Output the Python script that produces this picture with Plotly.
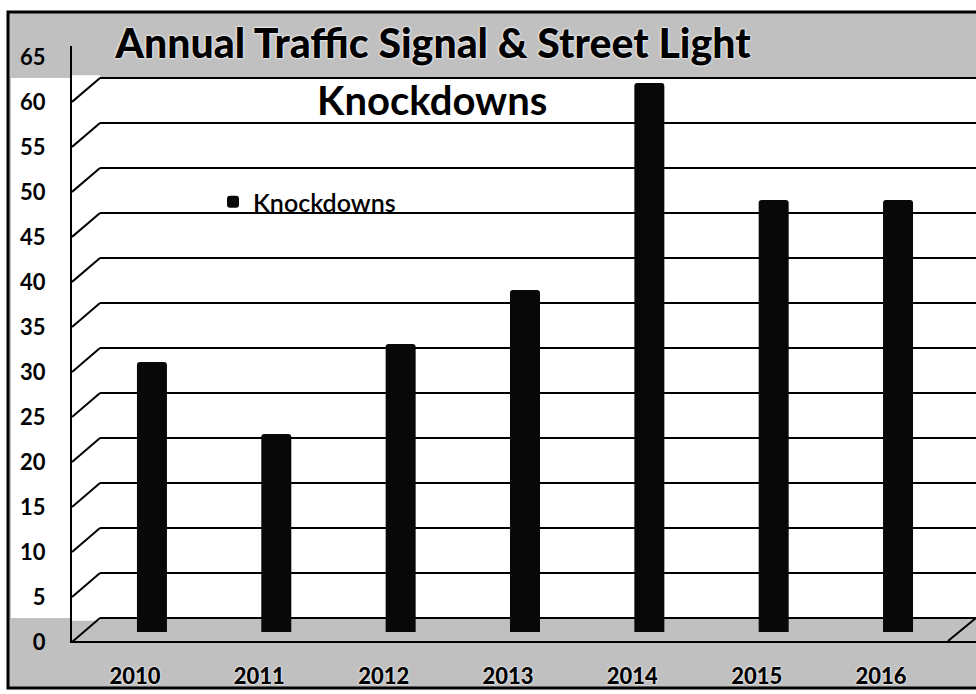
import plotly.graph_objects as go

# ---------------- data ----------------
years = ["2010", "2011", "2012", "2013", "2014", "2015", "2016"]
knockdowns = [30, 22, 32, 38, 61, 48, 48]
y_ticks = [0, 5, 10, 15, 20, 25, 30, 35, 40, 45, 50, 55, 60, 65]
title_line1 = "Annual Traffic Signal &amp; Street Light"
title_line2 = "Knockdowns"
series_name = "Knockdowns"

# ---------------- layout geometry ----------------
W, H = 976, 694
ML, MR, MT, MB = 72, 0, 46, 53
plot_w = W - ML - MR
plot_h = H - MT - MB
Y_RANGE = [-1, 65.1]
X_RANGE = [-0.643, 6.627]
px_per_y = plot_h / (Y_RANGE[1] - Y_RANGE[0])
px_per_x = plot_w / (X_RANGE[1] - X_RANGE[0])
BACK_SHIFT = 14 / px_per_y     # back wall sits higher than bar base
FRONT_SHIFT = -10 / px_per_y   # front edge (labels) sits lower
DEPTH_DX = 28 / px_per_x       # depth of the side wall in x units
WALL_TOP = 60

FONT = "Lato"
GRAY = "#c0c0c0"


def pxx(p):
    return (p - ML) / plot_w


def pxy(p):
    return (H - MB - p) / plot_h


def yv2paper(v):
    return (v - Y_RANGE[0]) / (Y_RANGE[1] - Y_RANGE[0])


fig = go.Figure()

fig.add_trace(go.Bar(
    x=years, y=knockdowns, name=series_name,
    marker=dict(color="#080808", line=dict(width=0), cornerradius=3),
    width=30 / px_per_x,
))
# empty helper trace so that the back-wall grid axis is created
fig.add_trace(go.Scatter(x=[], y=[], yaxis="y2", showlegend=False, hoverinfo="skip"))

shapes = []
# outer gray frame with black border
shapes.append(dict(type="rect", xref="paper", yref="paper",
                   x0=pxx(8), x1=pxx(995), y0=pxy(688), y1=pxy(12),
                   fillcolor=GRAY, line=dict(color="black", width=3), layer="below"))
# white back wall + left label column
shapes.append(dict(type="rect", xref="paper", yref="paper",
                   x0=pxx(11), x1=pxx(995),
                   y0=yv2paper(0 + BACK_SHIFT), y1=yv2paper(WALL_TOP + BACK_SHIFT),
                   fillcolor="white", line=dict(width=0), layer="below"))
# side wall strip hiding the back grid left of the perspective connectors
shapes.append(dict(type="rect", xref="x", yref="y",
                   x0=X_RANGE[0], x1=X_RANGE[0] + DEPTH_DX,
                   y0=BACK_SHIFT - 0.3, y1=WALL_TOP + BACK_SHIFT + 0.3,
                   fillcolor="white", line=dict(width=0), layer="between"))
# perspective connectors from the front axis to the back wall grid
for v in y_ticks:
    if v <= WALL_TOP:
        shapes.append(dict(type="line", xref="x", yref="y",
                           x0=X_RANGE[0], y0=v + FRONT_SHIFT,
                           x1=X_RANGE[0] + DEPTH_DX, y1=v + BACK_SHIFT,
                           line=dict(color="black", width=2), layer="between"))
# right floor edge
shapes.append(dict(type="line", xref="x", yref="y",
                   x0=X_RANGE[1] - DEPTH_DX, y0=Y_RANGE[0],
                   x1=X_RANGE[1], y1=BACK_SHIFT,
                   line=dict(color="black", width=2), layer="between"))

title_font = dict(family=FONT, size=41, color="black", weight=900,
                  shadow="0px 0px 2px white, 0px 0px 3px white")

fig.update_layout(
    width=W, height=H,
    margin=dict(l=ML, r=MR, t=MT, b=MB, pad=0),
    paper_bgcolor="white",
    plot_bgcolor="rgba(0,0,0,0)",
    bargap=0.5,
    title=dict(text=title_line1, x=433 / W, xanchor="center", xref="container",
               y=1 - 44 / H, yanchor="middle", yref="container", font=title_font),
    annotations=[dict(text=title_line2, xref="paper", yref="paper",
                      x=pxx(432), y=pxy(100), xanchor="center", yanchor="middle",
                      showarrow=False,
                      font=dict(family=FONT, size=40, color="black", weight="bold"))],
    shapes=shapes,
    showlegend=True,
    legend=dict(x=pxx(213), y=pxy(202), xanchor="left", yanchor="middle",
                bgcolor="rgba(0,0,0,0)",
                font=dict(family=FONT, size=25, color="black", weight=600)),
    xaxis=dict(type="category", categoryorder="array", categoryarray=years,
               range=X_RANGE, showgrid=False, zeroline=False,
               showline=True, linecolor="black", linewidth=2, ticks="",
               ticklabelshift=-17, ticklabelstandoff=15,
               tickfont=dict(family=FONT, size=22, color="black", weight=900,
                             shadow="0px 0px 2px white, 0px 0px 2px white")),
    yaxis=dict(range=Y_RANGE, tickvals=y_ticks, showgrid=False, zeroline=False,
               showline=True, linecolor="black", linewidth=2, ticks="",
               ticklabelshift=10, ticklabelstandoff=20,
               tickfont=dict(family=FONT, size=22, color="black", weight="bold")),
    yaxis2=dict(overlaying="y", range=[Y_RANGE[0] - BACK_SHIFT, Y_RANGE[1] - BACK_SHIFT],
                tickvals=[v for v in y_ticks if v <= WALL_TOP], showticklabels=False,
                showgrid=True, gridcolor="black", gridwidth=2, zeroline=False,
                showline=False, ticks=""),
)

fig.write_html("out.html", config={"displayModeBar": False},
               post_script="document.body.style.margin='0px';")
